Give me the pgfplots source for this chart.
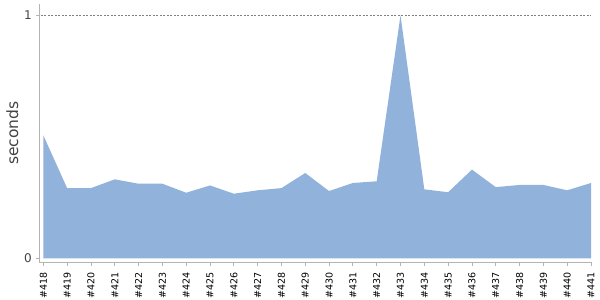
\documentclass[border=0pt]{standalone}
\usepackage{pgfplots}
\pgfplotsset{compat=1.18}
\usepackage{fontspec}
\setmainfont{DejaVu Sans}
\definecolor{areablue}{RGB}{145,178,218}
\definecolor{spine}{RGB}{180,180,180}
\definecolor{txt}{RGB}{68,68,68}
\begin{document}
\begin{tikzpicture}[x=1bp,y=1bp]
\useasboundingbox (-39.5bp,-38bp) rectangle (560.5bp,262bp);
\begin{axis}[
  at={(0,0)}, anchor=south west,
  scale only axis, width=551.5bp, height=258bp,
  xmin=417.84, xmax=441, ymin=-0.0144, ymax=1.045,
  axis x line*=bottom, axis y line*=left,
  axis line style={spine, line width=0.8bp, -},
  xtick={418,...,441},
  xticklabels={\#418,\#419,\#420,\#421,\#422,\#423,\#424,\#425,\#426,\#427,\#428,\#429,\#430,\#431,\#432,\#433,\#434,\#435,\#436,\#437,\#438,\#439,\#440,\#441},
  ytick={0,1}, yticklabels={0,1},
  tick align=outside, major tick length=3.5bp,
  tick style={spine, line width=0.8bp},
  xticklabel style={rotate=90, anchor=east, font=\fontsize{9.5bp}{10bp}\selectfont, text=black, inner sep=1bp, xshift=-6bp},
  yticklabel style={font=\fontsize{12bp}{13bp}\selectfont, text=txt, inner sep=1bp, xshift=-3bp},
  ylabel={seconds},
  ylabel style={font=\fontsize{15.5bp}{16bp}\selectfont, text=txt, at={(rel axis cs:0,0.5)}, anchor=south, inner sep=0pt, yshift=21bp},
  clip=false,
]
\addplot [fill=areablue, draw=none] coordinates {
(418,0.506) (419,0.289) (420,0.289) (421,0.325) (422,0.307) (423,0.307)
(424,0.270) (425,0.300) (426,0.266) (427,0.280) (428,0.289) (429,0.351)
(430,0.277) (431,0.310) (432,0.317) (433,0.998) (434,0.284) (435,0.272)
(436,0.365) (437,0.293) (438,0.302) (439,0.302) (440,0.280) (441,0.310)
} \closedcycle;
\addplot [gray, line width=0.6bp, dash pattern=on 2bp off 1.5bp] coordinates {(417.9,1) (441,1)};
\end{axis}
\end{tikzpicture}
\end{document}
